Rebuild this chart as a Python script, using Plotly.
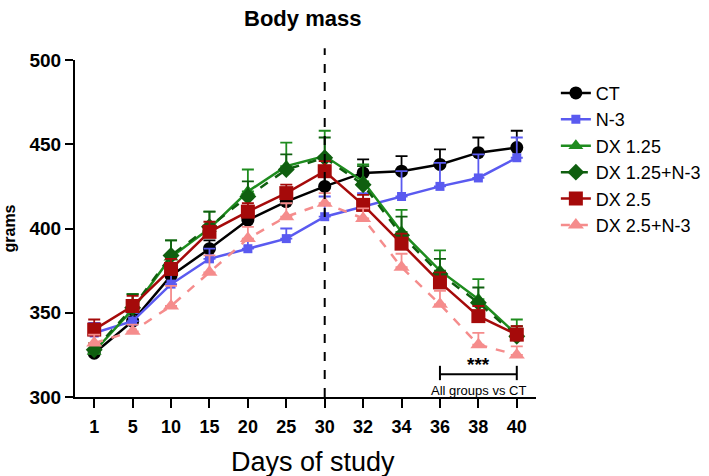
import plotly.graph_objects as go

days = ["1", "5", "10", "15", "20", "25", "30", "32", "34", "36", "38", "40"]

series_names = ["CT", "N-3", "DX 1.25", "DX 1.25+N-3", "DX 2.5", "DX 2.5+N-3"]

ct = [326, 345, 372, 388, 405, 416, 425, 433, 434, 438, 445, 448]
n3 = [338, 345, 367, 382, 388, 394, 407, 413, 419, 425, 430, 442]
dx125 = [327, 352, 383, 400, 422, 437, 443, 428, 398, 375, 358, 337]
dx125_n3 = [328, 353, 384, 401, 419, 435, 442, 426, 396, 373, 356, 336]
dx25 = [340, 354, 376, 398, 410, 421, 434, 414, 391, 368, 348, 337]
dx25_n3 = [332, 339, 354, 374, 394, 407, 415, 406, 377, 355, 331, 325]

ct_err = [2, 4, 4, 5, 5, 6, 8, 8, 9, 9, 9, 10]
n3_err = [6, 5, 6, 6, 5, 6, 12, 8, 15, 14, 14, 12]
dx125_err = [4, 9, 10, 10, 13, 14, 15, 10, 13, 12, 12, 9]
dx125_n3_err = [4, 8, 9, 9, 9, 9, 12, 11, 11, 9, 9, 6]
dx25_err = [6, 6, 6, 6, 5, 5, 6, 6, 6, 6, 6, 5]
dx25_n3_err = [5, 4, 12, 10, 7, 8, 6, 6, 8, 8, 7, 5]

y_ticks = [300, 350, 400, 450, 500]

# bracket / reference-line positions (category names)
split_day = "30"
bracket_from, bracket_to, bracket_mid = "36", "40", "38"

values = [ct, n3, dx125, dx125_n3, dx25, dx25_n3]
errors = [ct_err, n3_err, dx125_err, dx125_n3_err, dx25_err, dx25_n3_err]
colors = ["#000000", "#5a5af0", "#1e8c1e", "#0f5f0f", "#a50a0a", "#f58c8c"]
symbols = ["circle", "square", "triangle-up", "diamond", "square", "triangle-up"]
sizes = [13, 9, 13, 13, 14, 14]
dashes = ["solid", "solid", "solid", "dash", "solid", "dash"]

FONT = "Liberation Sans, Arial, sans-serif"

fig = go.Figure()
for name, v, e, c, s, sz, d in zip(series_names, values, errors, colors, symbols, sizes, dashes):
    fig.add_trace(go.Scatter(
        x=days, y=v, name=name, mode="lines+markers",
        line=dict(color=c, width=2.5, dash=d),
        marker=dict(color=c, symbol=s, size=sz),
        error_y=dict(type="data", array=e, arrayminus=[0] * len(e), symmetric=False,
                     color=c, thickness=1.8, width=6),
    ))

xi = {d: i for i, d in enumerate(days)}

# vertical dashed line at day 30
fig.add_shape(type="line", xref="x", yref="paper", x0=xi[split_day], x1=xi[split_day], y0=0, y1=1.035,
              line=dict(color="black", width=2, dash="dash"))

# significance bracket
fig.add_shape(type="line", xref="x", yref="y", x0=xi[bracket_from], x1=xi[bracket_to], y0=313.5, y1=313.5,
              line=dict(color="black", width=2))
fig.add_shape(type="line", xref="x", yref="y", x0=xi[bracket_from], x1=xi[bracket_from], y0=310, y1=318.5,
              line=dict(color="black", width=2))
fig.add_shape(type="line", xref="x", yref="y", x0=xi[bracket_to], x1=xi[bracket_to], y0=310, y1=318.5,
              line=dict(color="black", width=2))
fig.add_annotation(x=xi[bracket_mid], y=319.5, xref="x", yref="y", text="<b>***</b>", showarrow=False,
                   font=dict(family=FONT, size=19, color="black"))
fig.add_annotation(x=xi[bracket_mid], y=303.8, xref="x", yref="y", text="All groups vs CT", showarrow=False,
                   font=dict(family=FONT, size=13, color="black"))

# x-axis title
fig.add_annotation(x=0.516, y=-0.193, xref="paper", yref="paper", text="Days of study", showarrow=False,
                   xanchor="center", yanchor="middle",
                   font=dict(family=FONT, size=27, color="black"))

fig.update_layout(
    width=709, height=476,
    margin=dict(l=75, r=173, t=60, b=79, autoexpand=False),
    paper_bgcolor="white", plot_bgcolor="white",
    title=dict(text="<b>Body mass</b>", x=0.494, xref="paper", y=1 - 18 / 476, yref="container",
               xanchor="center", yanchor="middle",
               font=dict(family=FONT, size=22, color="black")),
    legend=dict(x=0.784, y=0.843, xref="container", yref="container", xanchor="left", yanchor="top",
                font=dict(family=FONT, size=18, color="black"),
                bgcolor="rgba(0,0,0,0)", tracegroupgap=3, itemwidth=30),
    showlegend=True,
)
fig.update_xaxes(
    type="category", categoryorder="array", categoryarray=days,
    range=[-0.5, 11.5],
    showline=True, linecolor="black", linewidth=2,
    ticks="outside", ticklen=9, tickwidth=2, tickcolor="black",
    tickfont=dict(family=FONT, size=18, color="black"),
    tickvals=days, ticktext=["<b>%s</b>" % d for d in days],
    ticklabelstandoff=3,
    showgrid=False, zeroline=False,
)
fig.update_yaxes(
    range=[300, 500],
    showline=True, linecolor="black", linewidth=2,
    ticks="outside", ticklen=8, tickwidth=2, tickcolor="black",
    tickfont=dict(family=FONT, size=19, color="black"),
    tickvals=y_ticks, ticktext=["<b>%d</b>" % t for t in y_ticks],
    showgrid=False, zeroline=False,
    title=dict(text="<b>grams</b>", font=dict(family=FONT, size=16, color="black"), standoff=10),
)

fig.write_html("out.html", config={"displayModeBar": False},
               post_script="document.body.style.margin='0px';")
